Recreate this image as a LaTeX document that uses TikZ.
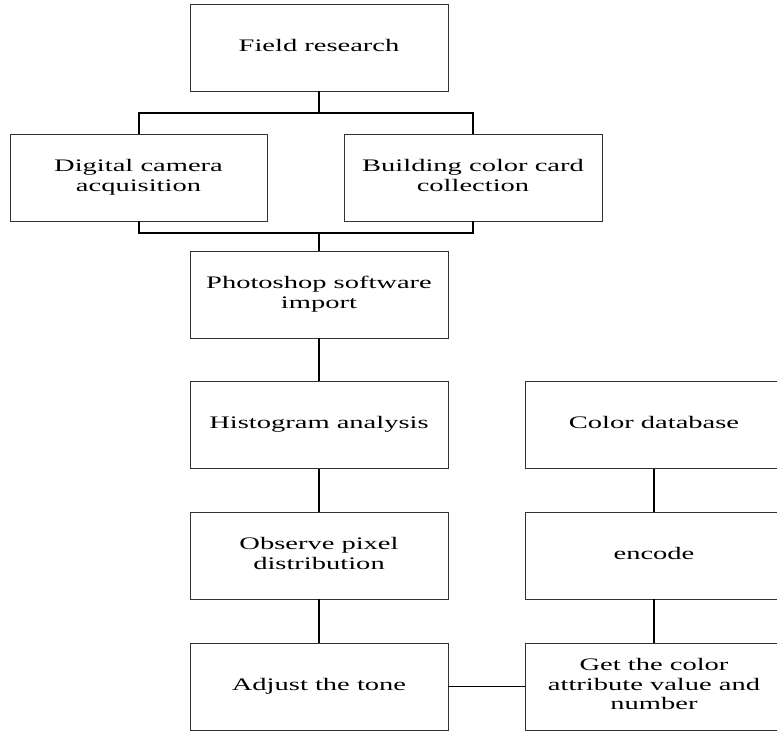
\documentclass[tikz,border=0pt]{standalone}
\usepackage{fontspec}
\usepackage{graphicx}
\setmainfont{Liberation Serif}
\newcommand{\boxtext}[1]{\scalebox{1.62}[1]{\fontsize{17.6}{19.5}\selectfont\begin{tabular}{@{}c@{}}#1\end{tabular}}}
\tikzset{
  stepbox/.style={draw=black!80, line width=0.9pt, minimum width=258pt, minimum height=87pt, inner sep=0pt, align=center},
  link/.style={line width=2pt, black},
  thinlink/.style={line width=1pt, black}
}
\begin{document}
\begin{tikzpicture}[x=1pt, y=-1pt]
\useasboundingbox (0,0) rectangle (777,733);
\clip (0,0) rectangle (777,733);
\node[stepbox] (FR) at (319,47.5) {\boxtext{Field research}};
\node[stepbox, minimum width=257pt] (DC) at (138.5,177.5) {\boxtext{Digital camera\\acquisition}};
\node[stepbox] (BC) at (473,177.5) {\boxtext{Building color card\\collection}};
\node[stepbox] (PS) at (319,294.5) {\boxtext{Photoshop software\\import}};
\node[stepbox] (HA) at (319,425) {\boxtext{Histogram analysis}};
\node[stepbox] (OP) at (319,555.5) {\boxtext{Observe pixel\\distribution}};
\node[stepbox] (AT) at (319,686.5) {\boxtext{Adjust the tone}};
\node[stepbox] (CD) at (654,425) {\boxtext{Color database}};
\node[stepbox] (EN) at (654,555.5) {\boxtext{encode}};
\node[stepbox] (GC) at (654,686.5) {\boxtext{Get the color\\attribute value and\\number}};
\coordinate (top) at (319,113);
\coordinate (bot) at (319,233);
\draw[link] (FR.south) -- (top);
\draw[link] (DC.north) |- (top) -| (BC.north);
\draw[link] (DC.south) |- (bot) -| (BC.south);
\draw[link] (bot) -- (PS.north);
\draw[link] (PS.south) -- (HA.north);
\draw[link] (HA.south) -- (OP.north);
\draw[link] (OP.south) -- (AT.north);
\draw[link] (CD.south) -- (EN.north);
\draw[link] (EN.south) -- (GC.north);
\draw[thinlink] (AT.east) -- (GC.west);
\end{tikzpicture}
\end{document}
